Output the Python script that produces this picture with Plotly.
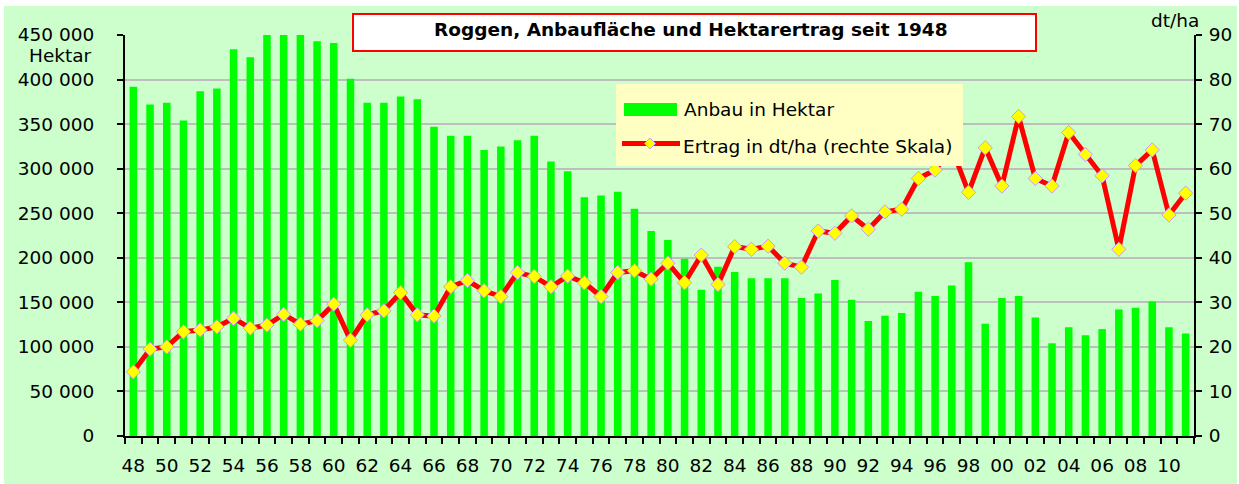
import plotly.graph_objects as go

years = list(range(1948, 2012))
year_labels = [f"{y % 100:02d}" for y in years]
tick_years = years[::2]
tick_labels = year_labels[::2]

area_ha = [392000, 372000, 374000, 354000, 387000, 390000, 434000, 425000,
           450000, 450000, 454000, 443000, 441000, 401000, 374000, 374000,
           381000, 378000, 347000, 337000, 337000, 321000, 325000, 332000,
           337000, 308000, 297000, 268000, 270000, 274000, 255000, 230000,
           220000, 199000, 164000, 190000, 184000, 177000, 177000, 177000,
           155000, 160000, 175000, 153000, 129000, 135000, 138000, 162000,
           157000, 169000, 195000, 126000, 155000, 157000, 133000, 104000,
           122000, 113000, 120000, 142000, 144000, 151000, 122000, 115000]

yield_dt = [14.4, 19.5, 20.0, 23.4, 23.8, 24.5, 26.4, 24.2, 24.9, 27.3,
            25.1, 25.9, 29.6, 21.5, 27.2, 28.1, 32.2, 27.2, 26.9, 33.5,
            34.9, 32.6, 31.3, 36.7, 35.8, 33.5, 35.9, 34.4, 31.3, 36.7,
            37.1, 35.2, 38.8, 34.4, 40.6, 34.0, 42.5, 41.9, 42.6, 38.8,
            37.9, 46.0, 45.5, 49.4, 46.4, 50.3, 50.9, 57.8, 59.7, 64.6,
            54.7, 64.7, 56.1, 71.7, 57.8, 56.1, 68.1, 63.2, 58.4, 41.9,
            60.7, 64.2, 49.6, 54.5]

title_text = "Roggen, Anbaufläche und Hektarertrag seit 1948"
name_area = "Anbau in Hektar"
name_yield = "Ertrag in dt/ha (rechte Skala)"

FONT = "DejaVu Sans, Verdana, sans-serif"
FS = 18.5
W, H = 1239, 484
L, R, T, B = 125, 45, 35, 48
PW, PH = W - L - R, H - T - B


def px(x):
    return (x - L) / PW


def py(y):
    return (H - B - y) / PH


fig = go.Figure()
fig.add_trace(go.Bar(x=years, y=area_ha, name=name_area, width=0.45,
                     marker=dict(color="#00FF00", line=dict(width=0)),
                     showlegend=False))
fig.add_trace(go.Scatter(x=years, y=yield_dt, name=name_yield, yaxis="y2",
                         mode="lines+markers",
                         line=dict(color="#FF0000", width=5),
                         marker=dict(symbol="diamond", size=11, color="#FFFF00",
                                     line=dict(color="#CC99FF", width=1)),
                         showlegend=False))

shapes = [
    # green background panel
    dict(type="rect", xref="paper", yref="paper", x0=px(4), x1=px(1237),
         y0=py(484), y1=py(6), fillcolor="#CCFFCC", line=dict(width=0),
         layer="below"),
    # title box
    dict(type="rect", xref="paper", yref="paper", x0=px(353), x1=px(1036),
         y0=py(51), y1=py(14), fillcolor="white",
         line=dict(color="#FF0000", width=2), layer="above"),
    # legend box
    dict(type="rect", xref="paper", yref="paper", x0=px(616), x1=px(963),
         y0=py(166), y1=py(84), fillcolor="#FFFFC4", line=dict(width=0),
         layer="above"),
    dict(type="rect", xref="paper", yref="paper", x0=px(624), x1=px(677),
         y0=py(116), y1=py(103), fillcolor="#00FF00", line=dict(width=0),
         layer="above"),
    dict(type="line", xref="paper", yref="paper", x0=px(622), x1=px(680),
         y0=py(143.5), y1=py(143.5), line=dict(color="#FF0000", width=5),
         layer="above"),
]
cx, cy, d = 650, 143.5, 5.5
shapes.append(dict(type="path", xref="paper", yref="paper",
                   path=(f"M {px(cx)},{py(cy - d)} L {px(cx + d)},{py(cy)} "
                         f"L {px(cx)},{py(cy + d)} L {px(cx - d)},{py(cy)} Z"),
                   fillcolor="#FFFF00", line=dict(color="#CC99FF", width=1),
                   layer="above"))

annotations = [
    dict(text=f"<b>{title_text}</b>", xref="paper", yref="paper",
         x=px(691), y=py(29), xanchor="center", yanchor="middle",
         showarrow=False, font=dict(family=FONT, size=FS, color="#000")),
    dict(text=name_area, xref="paper", yref="paper", x=px(682), y=py(109),
         xanchor="left", yanchor="middle", showarrow=False,
         font=dict(family=FONT, size=FS, color="#000")),
    dict(text=name_yield, xref="paper", yref="paper", x=px(681), y=py(146),
         xanchor="left", yanchor="middle", showarrow=False,
         font=dict(family=FONT, size=FS, color="#000")),
    dict(text="Hektar", xref="paper", yref="paper", x=px(93), y=py(55),
         xanchor="right", yanchor="middle", showarrow=False, borderpad=0,
         font=dict(family=FONT, size=FS, color="#000")),
    dict(text="dt/ha", xref="paper", yref="paper", x=px(1201), y=py(21),
         xanchor="right", yanchor="middle", showarrow=False,
         font=dict(family=FONT, size=FS, color="#000")),
]

fig.update_layout(
    width=W, height=H, autosize=False,
    margin=dict(l=L, r=R, t=T, b=B, pad=0, autoexpand=False),
    paper_bgcolor="white", plot_bgcolor="#FFFFC4",
    separators=", ",
    font=dict(family=FONT, size=FS, color="#000"),
    bargap=0.55,
    showlegend=False,
    shapes=shapes, annotations=annotations,
    xaxis=dict(range=[1947.5, 2011.5], tickmode="array", tickvals=tick_years,
               ticktext=tick_labels, ticks="", showgrid=False, zeroline=False,
               showline=True, linecolor="#000", linewidth=2, automargin=False,
               ticklabelstandoff=12,
               minor=dict(ticks="outside", tick0=1947.5, dtick=1, ticklen=6,
                          tickwidth=2, tickcolor="#000", showgrid=False)),
    yaxis=dict(range=[0, 450000], dtick=50000, tickformat=",d",
               ticks="outside", ticklen=6, tickwidth=2, tickcolor="#000",
               showline=True, linecolor="#000", linewidth=2, automargin=False,
               showgrid=True, gridcolor="#BEBEBE", gridwidth=2, zeroline=False,
               ticklabelstandoff=19),
    yaxis2=dict(range=[0, 90], dtick=10, overlaying="y", side="right",
                ticks="outside", ticklen=6, tickwidth=2, tickcolor="#000",
                showline=True, linecolor="#000", linewidth=2, automargin=False,
                showgrid=False, zeroline=False, ticklabelstandoff=3),
)

fig.write_html(
    "out.html",
    config={"displayModeBar": False, "staticPlot": True},
    post_script="document.body.style.margin='0px';document.body.style.overflow='hidden';",
)
